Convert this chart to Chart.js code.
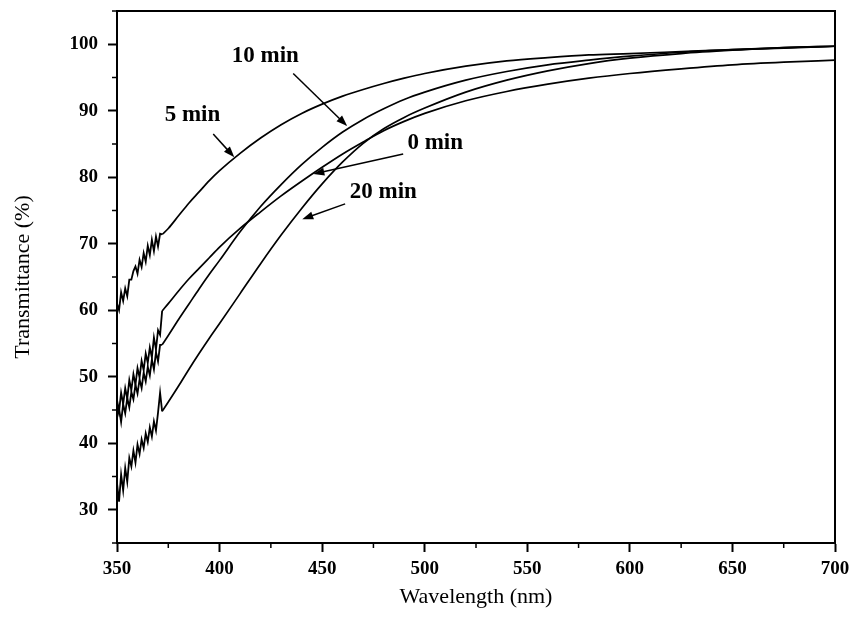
<!DOCTYPE html>
<html>
<head>
<meta charset="utf-8">
<script src="https://cdn.jsdelivr.net/npm/chart.js@4.4.0/dist/chart.umd.min.js"></script>
<style>
  html, body { margin: 0; padding: 0; background: #fff; }
</style>
</head>
<body>
<canvas id="chart" width="856" height="622"></canvas>
<script>
// wavelength (nm) - 1 nm steps through the noisy start, coarser after
const wavelengths = [350, 351, 352, 353, 354, 355, 356, 357, 358, 359, 360, 361, 362, 363, 364, 365, 366, 367, 368, 369, 370, 371, 372,
  375, 380, 385, 390, 395, 400, 410, 420, 430, 440, 450, 460, 470, 480, 490, 500, 520, 540, 560, 580, 600, 625, 650, 675, 700];
const noisyEnd = 372; // detector change - noisy below this wavelength

// transmittance (%) per deposition time
const t0 = [46.5, 44.8, 47.6, 45.9, 48.3, 46.7, 49.5, 48.0, 50.4, 48.8, 51.3, 49.9, 52.4, 51.0, 53.5, 52.1, 54.4, 52.9, 55.9, 54.1, 57.0, 56.3, 59.9,
  61.0, 62.9, 64.7, 66.3, 67.9, 69.5, 72.3, 74.8, 77.2, 79.4, 81.5, 83.5, 85.3, 87.0, 88.4, 89.6, 91.5, 92.9, 94.0, 94.9, 95.6, 96.3, 96.9, 97.3, 97.6];
const t5 = [61.0, 60.0, 62.7, 61.4, 63.3, 62.1, 64.6, 64.6, 65.9, 66.6, 65.5, 67.6, 66.5, 68.6, 67.3, 69.7, 68.3, 70.6, 68.9, 71.1, 69.6, 71.5, 71.4,
  72.3, 74.2, 76.1, 77.8, 79.5, 81.0, 83.6, 85.9, 87.9, 89.6, 91.0, 92.2, 93.2, 94.1, 94.9, 95.6, 96.7, 97.5, 98.0, 98.4, 98.6, 98.9, 99.2, 99.4, 99.7];
const t10 = [43.8, 45.2, 43.2, 45.9, 44.5, 46.8, 45.4, 47.7, 46.6, 48.8, 47.5, 49.6, 48.3, 50.6, 49.3, 51.5, 50.2, 52.6, 51.1, 53.7, 52.3, 54.8, 54.8,
  56.2, 58.6, 60.9, 63.2, 65.4, 67.5, 71.8, 75.6, 78.9, 81.9, 84.5, 86.8, 88.7, 90.3, 91.7, 92.8, 94.6, 95.9, 96.9, 97.6, 98.2, 98.8, 99.2, 99.5, 99.7];
const t20 = [34.0, 31.2, 35.3, 32.9, 36.3, 34.2, 37.8, 36.5, 38.9, 37.1, 39.8, 38.4, 40.6, 39.3, 41.5, 40.2, 42.4, 41.0, 43.3, 41.9, 44.6, 47.6, 44.8,
  46.2, 48.6, 51.1, 53.5, 55.8, 58.0, 62.5, 67.0, 71.3, 75.3, 79.0, 82.3, 85.1, 87.3, 89.0, 90.4, 92.8, 94.6, 96.0, 97.1, 97.9, 98.6, 99.1, 99.5, 99.7];

const seriesNames = ['0 min', '5 min', '10 min', '20 min'];
const seriesValues = [t0, t5, t10, t20];

// arrow labels, in data units [wavelength, transmittance]
const noteText = ['10 min', '5 min', '0 min', '20 min'];
const noteAt = [[422.3, 98.2], [386.8, 89.4], [505.1, 85.2], [479.8, 77.8]];
const arrowFrom = [[435.9, 95.6], [396.9, 86.5], [489.5, 83.5], [461.2, 76.0]];
const arrowTo = [[462.2, 87.7], [407.2, 83.0], [445.7, 80.5], [440.3, 73.7]];

const serif = "'Liberation Serif', 'DejaVu Serif', serif";

const frameAndNotes = {
  id: 'frameAndNotes',
  afterDraw(chart) {
    const { ctx, chartArea: a, scales: { x, y } } = chart;
    ctx.save();
    ctx.strokeStyle = '#000';
    ctx.lineWidth = 2;
    ctx.strokeRect(a.left, a.top, a.right - a.left, a.bottom - a.top);

    // short minor ticks
    ctx.lineWidth = 1.5;
    x.ticks.forEach(t => {
      if (t.value % 50 === 0) return;
      const px = x.getPixelForValue(t.value);
      ctx.beginPath(); ctx.moveTo(px, a.bottom); ctx.lineTo(px, a.bottom + 5); ctx.stroke();
    });
    y.ticks.forEach(t => {
      if (t.value % 10 === 0) return;
      const py = y.getPixelForValue(t.value);
      ctx.beginPath(); ctx.moveTo(a.left, py); ctx.lineTo(a.left - 5, py); ctx.stroke();
    });

    ctx.fillStyle = '#000';
    ctx.font = 'bold 23px ' + serif;
    ctx.textAlign = 'center';
    ctx.textBaseline = 'middle';
    noteText.forEach((txt, i) => {
      ctx.fillText(txt, x.getPixelForValue(noteAt[i][0]), y.getPixelForValue(noteAt[i][1]));
      const x1 = x.getPixelForValue(arrowFrom[i][0]), y1 = y.getPixelForValue(arrowFrom[i][1]);
      const x2 = x.getPixelForValue(arrowTo[i][0]), y2 = y.getPixelForValue(arrowTo[i][1]);
      const ang = Math.atan2(y2 - y1, x2 - x1);
      ctx.lineWidth = 1.5;
      ctx.beginPath(); ctx.moveTo(x1, y1); ctx.lineTo(x2 - 8 * Math.cos(ang), y2 - 8 * Math.sin(ang)); ctx.stroke();
      ctx.beginPath();
      ctx.moveTo(x2, y2);
      ctx.lineTo(x2 - 11 * Math.cos(ang) + 4 * Math.sin(ang), y2 - 11 * Math.sin(ang) - 4 * Math.cos(ang));
      ctx.lineTo(x2 - 11 * Math.cos(ang) - 4 * Math.sin(ang), y2 - 11 * Math.sin(ang) + 4 * Math.cos(ang));
      ctx.closePath();
      ctx.fill();
    });
    ctx.restore();
  }
};

// each spectrum = jagged noisy start (straight segments) + smooth remainder
const datasets = [];
seriesNames.forEach((name, i) => {
  const pts = wavelengths.map((w, j) => ({ x: w, y: seriesValues[i][j] }));
  datasets.push({
    label: name + ' (noisy)',
    data: pts.filter(p => p.x <= noisyEnd),
    borderColor: '#000', borderWidth: 1.8, pointRadius: 0, tension: 0, fill: false
  });
  datasets.push({
    label: name,
    data: pts.filter(p => p.x >= noisyEnd),
    borderColor: '#000', borderWidth: 1.7, pointRadius: 0,
    cubicInterpolationMode: 'monotone', fill: false
  });
});

new Chart(document.getElementById('chart'), {
  type: 'line',
  data: { datasets },
  options: {
    responsive: false,
    animation: false,
    layout: { padding: { top: 11, right: 21, left: 0, bottom: 0 } },
    plugins: { legend: { display: false }, tooltip: { enabled: false } },
    scales: {
      x: {
        type: 'linear',
        min: 350,
        max: 700,
        ticks: {
          stepSize: 25,
          autoSkip: false,
          maxRotation: 0,
          padding: 6,
          color: '#000',
          font: { family: serif, size: 19, weight: 'bold' },
          callback: v => (v % 50 === 0 ? v : '')
        },
        grid: {
          drawOnChartArea: false,
          tickLength: 9,
          tickWidth: 2,
          tickColor: c => (c.tick && c.tick.value % 50 === 0 ? '#000' : 'rgba(0,0,0,0)')
        },
        border: { display: true, color: '#000', width: 2 },
        title: {
          display: true,
          text: 'Wavelength (nm)',
          color: '#000',
          font: { family: serif, size: 22 },
          padding: { top: 4, bottom: 12 }
        },
        afterFit: s => { s.height = 79; }
      },
      y: {
        min: 25,
        max: 105,
        ticks: {
          stepSize: 5,
          autoSkip: false,
          padding: 10,
          color: '#000',
          font: { family: serif, size: 19, weight: 'bold' },
          callback: v => (v % 10 === 0 ? v : '')
        },
        grid: {
          drawOnChartArea: false,
          tickLength: 9,
          tickWidth: 2,
          tickColor: c => (c.tick && c.tick.value % 10 === 0 ? '#000' : 'rgba(0,0,0,0)')
        },
        border: { display: true, color: '#000', width: 2 },
        title: {
          display: true,
          text: 'Transmittance (%)',
          color: '#000',
          font: { family: serif, size: 22 },
          padding: { top: 10, bottom: 4 }
        },
        afterFit: s => { s.width = 117; s.paddingTop = 0; s.paddingBottom = 0; }
      }
    }
  },
  plugins: [frameAndNotes]
});
</script>
</body>
</html>
